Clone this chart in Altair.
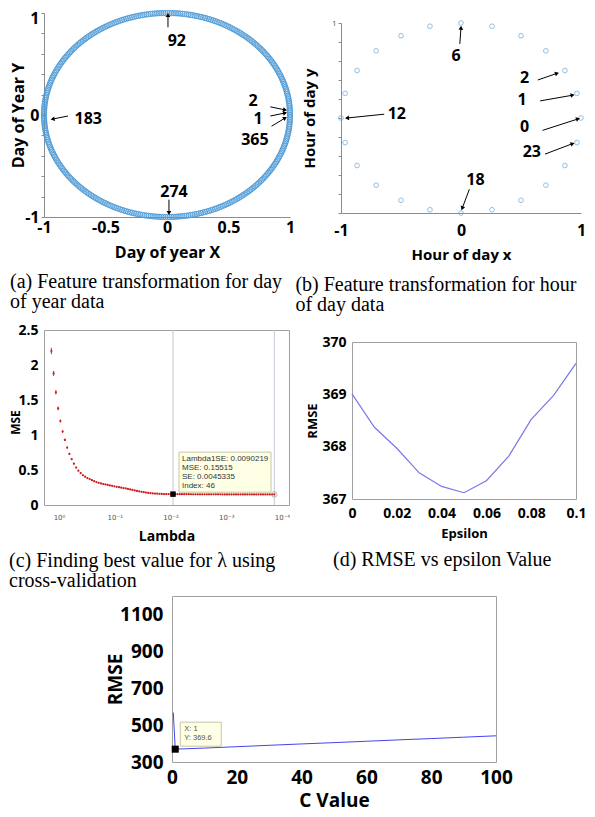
import math
import numpy as np
import pandas as pd
import altair as alt

SANS = "Open Sans"
SERIF = "Liberation Serif"
AX = "#8c8c8c"

# ---------------- (a) day of year feature transformation ----------------
day_of_year = list(range(1, 366))
a_labels = ["92", "183", "274", "2", "1", "365"]
a_lx = [0.08, -0.64, 0.057, 0.70, 0.74, 0.715]
a_ly = [0.73, -0.04, -0.755, 0.14, -0.04, -0.245]
a_tx = [0.008, -0.805, 0.016, 0.84, 0.84, 0.85]
a_ty = [0.86, -0.01, -0.83, 0.08, -0.01, -0.11]
a_hx = [0.008, -0.93, 0.016, 0.96, 0.96, 0.96]
a_hy = [0.98, -0.04, -0.96, 0.05, 0.02, -0.03]

# ---------------- (b) hour of day feature transformation ----------------
hour_of_day = list(range(24))
b_labels = ["6", "12", "2", "1", "0", "23", "18"]
b_lx = [-0.04, -0.535, 0.53, 0.51, 0.53, 0.59, 0.12]
b_ly = [0.65, 0.04, 0.42, 0.19, -0.095, -0.36, -0.655]
b_tx = [-0.01, -0.64, 0.64, 0.66, 0.68, 0.70, 0.07]
b_ty = [0.78, 0.04, 0.40, 0.18, -0.13, -0.38, -0.75]
b_hx = [0.0, -0.95, 0.80, 0.93, 0.975, 0.93, 0.01]
b_hy = [0.95, 0.0, 0.47, 0.24, -0.01, -0.27, -0.95]

# ---------------- (c) lasso cross-validation ----------------
lambda_max = 1.3713          # MATLAB lasso default grid: 100 log-spaced values down to 1e-4*max
mse_vals = [
    2.20, 1.88, 1.61, 1.38, 1.20, 1.05, 0.93, 0.82, 0.73, 0.655,
    0.59, 0.535, 0.49, 0.455, 0.425, 0.405, 0.385, 0.37, 0.355, 0.34,
    0.328, 0.317, 0.308, 0.30, 0.293, 0.286, 0.28, 0.274, 0.267, 0.26,
    0.254, 0.248, 0.242, 0.236, 0.229, 0.222, 0.215, 0.208, 0.201, 0.195,
    0.189, 0.183, 0.178, 0.173, 0.169, 0.166, 0.163, 0.161, 0.159, 0.158,
    0.157, 0.1562, 0.1557, 0.1554, 0.15515, 0.1549, 0.1547, 0.1545, 0.1543, 0.1541,
    0.1539, 0.1537, 0.1535, 0.1533, 0.1531, 0.1530, 0.1528, 0.1527, 0.1526, 0.1525,
    0.1523, 0.1522, 0.1521, 0.1520, 0.1519, 0.1518, 0.1517, 0.1516, 0.1515, 0.1514,
    0.1513, 0.1513, 0.1512, 0.1511, 0.1511, 0.1510, 0.1510, 0.1509, 0.1509, 0.1508,
    0.1508, 0.1508, 0.1507, 0.1507, 0.1507, 0.1507, 0.1506, 0.1506, 0.1506, 0.1506,
]
se_vals = [
    0.045, 0.036, 0.030, 0.026, 0.022, 0.019, 0.017, 0.015, 0.013, 0.012,
    0.011, 0.010, 0.0095, 0.009, 0.0085, 0.008, 0.0078, 0.0075, 0.0072, 0.007,
    0.0068, 0.0066, 0.0064, 0.0062, 0.006, 0.0059, 0.0058, 0.0057, 0.0056, 0.0055,
    0.0054, 0.0053, 0.0052, 0.0051, 0.005, 0.0049, 0.0048, 0.0048, 0.0047, 0.0047,
    0.0046, 0.0046, 0.0046, 0.0045, 0.0045, 0.0045, 0.0045, 0.0045, 0.0045, 0.0045,
    0.0045, 0.0045, 0.0045, 0.0045, 0.0045335, 0.0045, 0.0045, 0.0045, 0.0045, 0.0045,
    0.0045, 0.0045, 0.0045, 0.0045, 0.0045, 0.0045, 0.0045, 0.0045, 0.0045, 0.0045,
    0.0045, 0.0045, 0.0045, 0.0045, 0.0045, 0.0045, 0.0045, 0.0045, 0.0045, 0.0045,
    0.0045, 0.0045, 0.0045, 0.0045, 0.0045, 0.0045, 0.0045, 0.0045, 0.0045, 0.0045,
    0.0045, 0.0045, 0.0045, 0.0045, 0.0045, 0.0045, 0.0045, 0.0045, 0.0045, 0.0045,
]
lambda_1se = 0.0090219
mse_1se = 0.15515
tip_c = "Lambda1SE: 0.0090219\nMSE: 0.15515\nSE: 0.0045335\nIndex: 46"
lambda_ticks = [1, 0.1, 0.01, 0.001, 0.0001]

# ---------------- (d) RMSE vs epsilon ----------------
epsilon = [0, 0.01, 0.02, 0.03, 0.04, 0.05, 0.06, 0.07, 0.08, 0.09, 0.1]
rmse_eps = [369.01, 368.37, 367.97, 367.50, 367.24, 367.12, 367.35, 367.82, 368.52, 368.98, 369.59]

# ---------------- (e) RMSE vs C ----------------
c_vals = [0.4, 1, 10, 20, 30, 40, 50, 60, 70, 80, 90, 100]
rmse_c = [568, 369.6, 375.5, 383, 390.5, 398, 405, 412.5, 420, 427, 434.5, 442]
tip_e = "X: 1\nY: 369.6"

captions = {
    "a": ["(a) Feature transformation for day", "of year data"],
    "b": ["(b) Feature transformation for hour", "of day data"],
    "c": ["(c) Finding best value for \u03bb using", "cross-validation"],
    "d": ["(d) RMSE vs epsilon Value"],
}


def caption(lines, offset, dx=0):
    return alt.TitleParams(lines, orient="bottom", anchor="start", font=SERIF, fontSize=20,
                           fontWeight="normal", lineHeight=20, color="black", offset=offset, dx=dx)


def blank(w, h):
    return alt.Chart(pd.DataFrame({"v": [0]})).mark_point(size=0, opacity=0).encode(
        x=alt.value(1), y=alt.value(1)
    ).properties(width=w, height=h, view=alt.ViewBackground(stroke=None))


def arrows(labels, lx, ly, tx, ty, hx, hy, sx, sy):
    rows = []
    for i, lab in enumerate(labels):
        ang = math.degrees(math.atan2((hx[i] - tx[i]) * sx, (hy[i] - ty[i]) * sy)) % 360
        rows.append(dict(label=lab, lx=lx[i], ly=ly[i], tx=tx[i], ty=ty[i], hx=hx[i], hy=hy[i], ang=ang))
    return pd.DataFrame(rows)


def annot_layers(df, xs, ys, xa, ya, fs):
    shaft = alt.Chart(df).mark_rule(color="black", strokeWidth=1).encode(
        x=alt.X("tx:Q", scale=xs, axis=xa), y=alt.Y("ty:Q", scale=ys, axis=ya),
        x2="hx:Q", y2="hy:Q")
    head = alt.Chart(df).mark_point(shape="triangle-up", filled=True, color="black", opacity=1, size=22).encode(
        x=alt.X("hx:Q", scale=xs, axis=xa), y=alt.Y("hy:Q", scale=ys, axis=ya),
        angle=alt.Angle("ang:Q", scale=None))
    txt = alt.Chart(df).mark_text(font=SANS, fontWeight="bold", fontSize=fs, color="black").encode(
        x=alt.X("lx:Q", scale=xs, axis=xa), y=alt.Y("ly:Q", scale=ys, axis=ya), text="label:N")
    return [shaft, head, txt]


def bold_axis(title, fs, tfs, **kw):
    base = dict(title=title, labelFont=SANS, labelFontWeight="bold", labelFontSize=fs, labelColor="black",
                titleFont=SANS, titleFontWeight="bold", titleFontSize=tfs, titleColor="black",
                domainColor=AX, tickColor=AX, grid=False, labelOverlap=False, labelFlush=False)
    base.update(kw)
    return alt.Axis(**base)


neg_fmt = "datum.value < 0 ? '-' + format(-datum.value, '~g') : format(datum.value, '~g')"
ticks02 = [-1, -0.8, -0.6, -0.4, -0.2, 0, 0.2, 0.4, 0.6, 0.8, 1]

# ---------- panel a ----------
ang_a = [2 * math.pi * d / 365 for d in day_of_year]
df_a = pd.DataFrame({"x": [math.cos(t) for t in ang_a], "y": [math.sin(t) for t in ang_a]})
sxa = alt.Scale(domain=[-1, 1], nice=False)
sya = alt.Scale(domain=[-1, 1], nice=False)
ax_ax = bold_axis("Day of year X", 16, 16, values=[-1, -0.5, 0, 0.5, 1], labelExpr=neg_fmt,
                  ticks=False, labelPadding=2, titlePadding=9)
ax_ay = bold_axis("Day of Year Y", 16, 16, values=ticks02,
                  labelExpr="abs(datum.value) < 1e-6 ? '0' : datum.value > 0.99 ? '1' : datum.value < -0.99 ? '-1' : ''",
                  labelBaseline={"condition": {"test": "datum.value > 0.99", "value": "top"}, "value": "middle"},
                  labelOffset={"condition": {"test": "datum.value > 0.99", "value": -3}, "value": 0},
                  tickSize=3, labelPadding=2, titleX=-18, titleY=102)
pts_a = alt.Chart(df_a).mark_point(shape="circle", filled=False, size=28, strokeWidth=1, color="#4f9cd8", opacity=0.9).encode(
    x=alt.X("x:Q", scale=sxa, axis=ax_ax), y=alt.Y("y:Q", scale=sya, axis=ax_ay))
df_aa = arrows(a_labels, a_lx, a_ly, a_tx, a_ty, a_hx, a_hy, 123, 102)
panel_a = alt.layer(pts_a, *annot_layers(df_aa, sxa, sya, ax_ax, ax_ay, 16)).properties(
    width=246, height=204, view=alt.ViewBackground(stroke=None), title=caption(captions["a"], 12))

# ---------- panel b ----------
ang_b = [2 * math.pi * h / 24 for h in hour_of_day]
df_b = pd.DataFrame({"x": [math.cos(t) for t in ang_b], "y": [math.sin(t) for t in ang_b]})
sxb = alt.Scale(domain=[-1, 1], nice=False)
syb = alt.Scale(domain=[-1, 1], nice=False)
ax_bx = bold_axis("Hour of day x", 16, 15, values=[-1, 0, 1], labelExpr=neg_fmt,
                  ticks=False, labelPadding=9, titlePadding=9)
ax_by = bold_axis("Hour of day y", 8, 15, values=ticks02,
                  labelExpr="datum.value > 0.99 ? '1' : ''", labelFontWeight="normal",
                  labelColor="#555", tickSize=3, labelPadding=2, titlePadding=14)
pts_b = alt.Chart(df_b).mark_point(shape="circle", filled=False, size=22, strokeWidth=1, color="#64a5dc").encode(
    x=alt.X("x:Q", scale=sxb, axis=ax_bx), y=alt.Y("y:Q", scale=syb, axis=ax_by))
df_bb = arrows(b_labels, b_lx, b_ly, b_tx, b_ty, b_hx, b_hy, 120, 95)
panel_b = alt.layer(pts_b, *annot_layers(df_bb, sxb, syb, ax_bx, ax_by, 16)).properties(
    width=240, height=190, view=alt.ViewBackground(stroke=None), title=caption(captions["b"], 13, -7))

# ---------- panel c ----------
lambdas = np.geomspace(lambda_max, lambda_max * 1e-4, len(mse_vals))
df_c = pd.DataFrame({"lam": lambdas, "mse": mse_vals, "se": se_vals})
df_c["lo"] = df_c["mse"] - df_c["se"]
df_c["hi"] = df_c["mse"] + df_c["se"]
sxc = alt.Scale(type="log", domain=[7.48e-5, 1.86], reverse=True, nice=False)
syc = alt.Scale(domain=[0, 2.5], nice=False)
sup_expr = ("datum.value > 0.5 ? '10\u2070' : datum.value > 0.05 ? '10\u207b\u00b9' : "
            "datum.value > 0.005 ? '10\u207b\u00b2' : datum.value > 0.0005 ? '10\u207b\u00b3' : '10\u207b\u2074'")
ax_cx = bold_axis("Lambda", 7, 14, values=lambda_ticks, labelExpr=sup_expr, labelFont="DejaVu Sans",
                  labelFontWeight="normal", labelColor="#555", ticks=False, domain=False, labelPadding=8, titlePadding=9.5)
ax_cy = bold_axis("MSE", 14, 12, values=[0, 0.5, 1, 1.5, 2, 2.5], format="~g", ticks=False, domain=False,
                  labelPadding=6, titleX=-22, titleY=92)
df_lines = pd.DataFrame({"lam": [lambda_1se, float(lambdas[-1])]})
vlines = alt.Chart(df_lines).mark_rule(color="#c3c8d4", strokeWidth=1).encode(x=alt.X("lam:Q", scale=sxc, axis=ax_cx))
ebars = alt.Chart(df_c).mark_rule(color="#d01c1c", strokeWidth=1).encode(
    x=alt.X("lam:Q", scale=sxc, axis=ax_cx), y=alt.Y("lo:Q", scale=syc, axis=ax_cy), y2="hi:Q")
dots = alt.Chart(df_c).mark_circle(color="#d01c1c", size=5, opacity=1).encode(
    x=alt.X("lam:Q", scale=sxc, axis=ax_cx), y=alt.Y("mse:Q", scale=syc, axis=ax_cy))
df_min = pd.DataFrame({"lam": [float(lambdas[-1])], "mse": [mse_vals[-1]]})
min_pt = alt.Chart(df_min).mark_point(shape="circle", filled=False, size=30, color="#86a886", strokeWidth=1).encode(
    x=alt.X("lam:Q", scale=sxc, axis=ax_cx), y=alt.Y("mse:Q", scale=syc, axis=ax_cy))
df_1se = pd.DataFrame({"lam": [lambda_1se], "mse": [mse_1se], "tip": [tip_c]})
sq_c = alt.Chart(df_1se).mark_square(color="black", size=30, opacity=1).encode(
    x=alt.X("lam:Q", scale=sxc, axis=ax_cx), y=alt.Y("mse:Q", scale=syc, axis=ax_cy))
box_c = alt.Chart(df_1se).mark_rect(fill="#ffffe6", stroke="#c6c6a6", strokeWidth=1,
                                    xOffset=6, x2Offset=98, yOffset=-42, y2Offset=-2).encode(
    x=alt.X("lam:Q", scale=sxc, axis=ax_cx), x2="lam:Q", y=alt.Y("mse:Q", scale=syc, axis=ax_cy), y2="mse:Q")
txt_c = alt.Chart(df_1se).mark_text(align="left", baseline="top", dx=9, dy=-39, fontSize=8, font="Liberation Sans",
                                    color="#333333", lineBreak="\n", lineHeight=9).encode(
    x=alt.X("lam:Q", scale=sxc, axis=ax_cx), y=alt.Y("mse:Q", scale=syc, axis=ax_cy), text="tip:N")
panel_c = alt.layer(vlines, ebars, dots, min_pt, box_c, txt_c, sq_c).properties(
    width=245, height=175, view=alt.ViewBackground(stroke="#a0a0a0", strokeWidth=1),
    title=caption(captions["c"], 7))

# ---------- panel d ----------
df_d = pd.DataFrame({"eps": epsilon, "rmse": rmse_eps})
line_d = alt.Chart(df_d).mark_line(color="#7878e6", strokeWidth=1.2).encode(
    x=alt.X("eps:Q", scale=alt.Scale(domain=[0, 0.1], nice=False),
            axis=bold_axis("Epsilon", 14, 13, values=[0, 0.02, 0.04, 0.06, 0.08, 0.1], format="~g",
                           ticks=False, domain=False, labelPadding=7, titlePadding=7)),
    y=alt.Y("rmse:Q", scale=alt.Scale(domain=[367, 370], nice=False),
            axis=bold_axis("RMSE", 14, 13, values=[367, 368, 369, 370], format="d",
                           ticks=False, domain=False, labelPadding=6, titlePadding=2)),
)
panel_d = line_d.properties(width=224, height=157, view=alt.ViewBackground(stroke="#a0a0a0", strokeWidth=1),
                            title=caption(captions["d"], 10, 26))

# ---------- panel e ----------
sxe = alt.Scale(domain=[0, 100], nice=False)
sye = alt.Scale(domain=[300, 1200], nice=False)
ax_ex = bold_axis("C Value", 19, 19, values=[0, 20, 40, 60, 80, 100], format="d", ticks=False, domain=False,
                  labelPadding=6, titlePadding=4)
ax_ey = bold_axis("RMSE", 19, 19, values=[300, 500, 700, 900, 1100], format="d", ticks=False, domain=False,
                  labelPadding=9, titleX=-47, titleY=83)
df_e = pd.DataFrame({"c": c_vals, "rmse": rmse_c})
line_e = alt.Chart(df_e).mark_line(color="#4444ee", strokeWidth=1).encode(
    x=alt.X("c:Q", scale=sxe, axis=ax_ex), y=alt.Y("rmse:Q", scale=sye, axis=ax_ey))
df_pe = pd.DataFrame({"c": [1], "rmse": [369.6], "tip": [tip_e]})
box_e = alt.Chart(df_pe).mark_rect(fill="#ffffe6", stroke="#c6c6a6", strokeWidth=1,
                                   xOffset=5, x2Offset=46, yOffset=-27, y2Offset=-3).encode(
    x=alt.X("c:Q", scale=sxe, axis=ax_ex), x2="c:Q", y=alt.Y("rmse:Q", scale=sye, axis=ax_ey), y2="rmse:Q")
txt_e = alt.Chart(df_pe).mark_text(align="left", baseline="top", dx=9, dy=-24, fontSize=7.5, font="Liberation Sans",
                                   color="#555555", lineBreak="\n", lineHeight=9).encode(
    x=alt.X("c:Q", scale=sxe, axis=ax_ex), y=alt.Y("rmse:Q", scale=sye, axis=ax_ey), text="tip:N")
sq_e = alt.Chart(df_pe).mark_square(color="black", size=50, opacity=1).encode(
    x=alt.X("c:Q", scale=sxe, axis=ax_ex), y=alt.Y("rmse:Q", scale=sye, axis=ax_ey))
panel_e = alt.layer(line_e, box_e, txt_e, sq_e).properties(
    width=324, height=166, view=alt.ViewBackground(stroke="#a0a0a0", strokeWidth=1))

row1 = alt.hconcat(panel_a, alt.vconcat(blank(4, 5), panel_b, spacing=0), spacing=0)
row2 = alt.hconcat(panel_c, alt.vconcat(blank(4, 4), panel_d, spacing=0), spacing=15)
row3 = alt.hconcat(blank(61, 4), panel_e, spacing=0)

upper = alt.vconcat(row1, row2, spacing=7)
chart = alt.vconcat(upper, row3, spacing=4).properties(
    padding={"left": 0, "top": 0, "right": 0, "bottom": 0}
).configure(font=SANS)

chart.save("out.html", embed_options={"renderer": "svg", "actions": False})
